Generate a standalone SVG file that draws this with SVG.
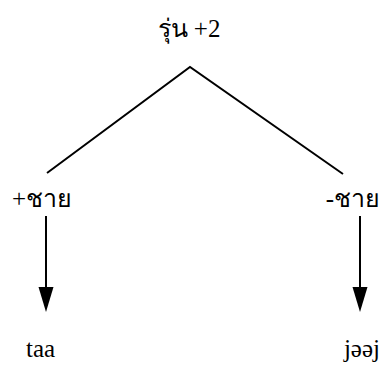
<svg xmlns="http://www.w3.org/2000/svg" width="382" height="365" viewBox="0 0 382 365">
<style>
.t{font-family:'Liberation Serif','Times New Roman',serif;font-size:25px;fill:#000}
.l{stroke:#000;stroke-width:2;fill:none}
</style>
<rect width="382" height="365" fill="#fff"/>
<g id="connectors">
<polyline class="l" points="47,173 190,67 343,174"/>
<line class="l" x1="46" y1="216" x2="46" y2="290"/>
<path d="M38.5,287 L53.5,287 L46,312 Z" fill="#000"/>
<line class="l" x1="360" y1="216" x2="360" y2="290"/>
<path d="M352.5,287 L367.5,287 L360,312 Z" fill="#000"/>
</g>
<g id="root"><text class="t" x="189" y="37" text-anchor="middle">รุ่น +2</text></g>
<g id="male"><text class="t" x="12" y="207">+ชาย</text></g>
<g id="nonmale"><text class="t" x="380" y="207" text-anchor="end">-ชาย</text></g>
<g id="taa"><text class="t" x="26" y="357">taa</text></g>
<g id="jeej"><text class="t" x="380" y="357" text-anchor="end">jəəj</text></g>
</svg>
